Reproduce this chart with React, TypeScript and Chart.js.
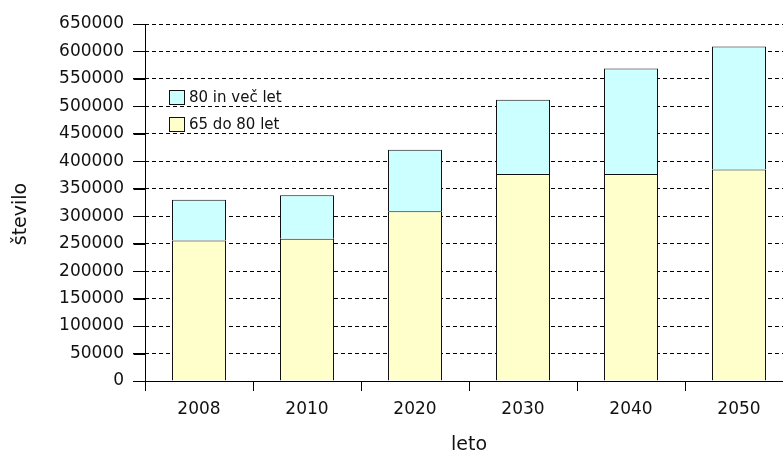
import React, { useEffect, useRef } from 'react';
import { Chart, registerables } from 'chart.js';

Chart.register(...registerables);

const categories = ['2008', '2010', '2020', '2030', '2040', '2050'];
const age65to80 = [256000, 259000, 309000, 377000, 377000, 385000];
const age80plus = [74000, 79000, 112000, 135000, 192000, 224000];
const seriesLabels = ['65 do 80 let', '80 in več let'];
const seriesColors = ['#FFFFCC', '#CCFFFF'];
const yMin = 0;
const yMax = 650000;
const yStep = 50000;
const xTitle = 'leto';
const yTitle = 'število';

const FONT = '"DejaVu Sans", Verdana, sans-serif';
const TEXT = '#111111';

const extras = {
  id: 'extras',
  afterDraw(chart: any) {
    const { ctx, chartArea } = chart;
    const yScale = chart.scales.y;
    ctx.save();
    const ax = Math.round(chartArea.left) + 0.5;
    ctx.strokeStyle = '#000000';
    ctx.lineWidth = 1;
    ctx.setLineDash([]);
    // solid y axis line
    ctx.beginPath();
    ctx.moveTo(ax, chartArea.top);
    ctx.lineTo(ax, chartArea.bottom);
    ctx.stroke();
    // y tick marks (outside)
    yScale.ticks.forEach((t: any) => {
      const py = Math.round(yScale.getPixelForValue(t.value)) + 0.5;
      ctx.beginPath();
      ctx.moveTo(ax - 12, py);
      ctx.lineTo(ax, py);
      ctx.stroke();
    });
    // y axis title
    ctx.fillStyle = TEXT;
    ctx.font = `19px ${FONT}`;
    ctx.textAlign = 'center';
    ctx.textBaseline = 'middle';
    ctx.translate(21, 214);
    ctx.rotate(-Math.PI / 2);
    ctx.fillText(yTitle, 0, 0);
    ctx.restore();
  },
  afterDatasetsDraw(chart: any) {
    const { ctx, chartArea } = chart;
    const items = chart.data.datasets
      .map((d: any) => ({ label: d.label, fill: d.backgroundColor }))
      .reverse();
    ctx.save();
    items.forEach((it: any, i: number) => {
      const x = Math.round(chartArea.left + 24);
      const y = Math.round(chartArea.top + 66 + i * 27);
      ctx.fillStyle = it.fill;
      ctx.fillRect(x + 0.5, y + 0.5, 15, 14);
      ctx.strokeStyle = '#111111';
      ctx.lineWidth = 1;
      ctx.strokeRect(x + 0.5, y + 0.5, 15, 14);
      ctx.fillStyle = TEXT;
      ctx.font = `15px ${FONT}`;
      ctx.textBaseline = 'middle';
      ctx.textAlign = 'left';
      ctx.fillText(it.label, x + 20, y + 8);
    });
    ctx.restore();
  },
};

export default function App() {
  const canvasRef = useRef<HTMLCanvasElement | null>(null);

  useEffect(() => {
    if (!canvasRef.current) return;
    const chart = new Chart(canvasRef.current, {
      type: 'bar',
      data: {
        labels: categories,
        datasets: [
          {
            label: seriesLabels[0],
            data: age65to80,
            backgroundColor: seriesColors[0],
            borderColor: '#111111',
            borderWidth: 1,
            inflateAmount: 0,
          },
          {
            label: seriesLabels[1],
            data: age80plus,
            backgroundColor: seriesColors[1],
            borderColor: '#111111',
            borderWidth: 1,
            inflateAmount: 0,
          },
        ],
      },
      options: {
        animation: false,
        responsive: true,
        maintainAspectRatio: false,
        events: [],
        datasets: {
          bar: { categoryPercentage: 1, barPercentage: 0.5 },
        },
        layout: { padding: { top: 24, right: 7, left: 0, bottom: 0 } },
        plugins: {
          legend: { display: false },
          tooltip: { enabled: false },
        },
        scales: {
          x: {
            stacked: true,
            grid: {
              display: true,
              drawOnChartArea: false,
              drawTicks: true,
              tickLength: 10,
              color: '#000000',
              tickColor: '#000000',
              offset: true,
            },
            border: { display: true, color: '#000000', width: 1 },
            ticks: {
              padding: 8,
              color: TEXT,
              font: { family: FONT, size: 17 },
              maxRotation: 0,
              autoSkip: false,
            },
            title: {
              display: true,
              text: xTitle,
              color: TEXT,
              font: { family: FONT, size: 19 },
              padding: { top: 0, bottom: -2 },
            },
            afterFit: (s: any) => {
              s.height = 73;
            },
          },
          y: {
            stacked: true,
            min: yMin,
            max: yMax,
            ticks: {
              stepSize: yStep,
              padding: 9,
              color: TEXT,
              font: { family: FONT, size: 17 },
              callback: (v: any) => String(v),
            },
            grid: {
              color: '#000000',
              lineWidth: 1,
              drawTicks: true,
              tickLength: 12,
              tickColor: '#000000',
              tickBorderDash: [],
              tickWidth: 1,
            },
            border: { display: false, color: '#000000', width: 1, dash: [4, 3] },
            title: { display: false },
            afterFit: (s: any) => {
              s.width = 145;
            },
          },
        },
      },
      plugins: [extras],
    });
    return () => chart.destroy();
  }, []);

  return (
    <div
      style={{
        position: 'fixed',
        left: 0,
        top: 0,
        width: 783,
        height: 454,
        overflow: 'hidden',
        background: '#ffffff',
      }}
    >
      <div style={{ position: 'relative', width: 800, height: 454 }}>
        <canvas ref={canvasRef} />
      </div>
    </div>
  );
}
